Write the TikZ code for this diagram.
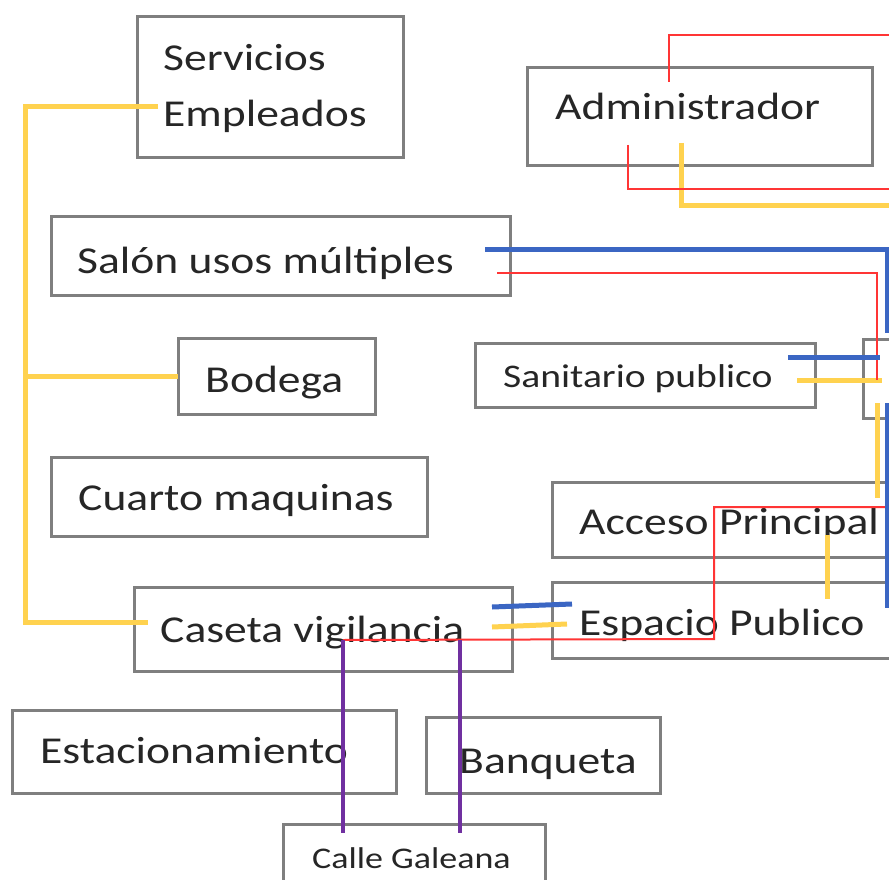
\documentclass[tikz,border=0pt]{standalone}
\usepackage{fontspec}
\setmainfont[FakeStretch=1.2]{Carlito}

\definecolor{gris}{HTML}{7F7F7F}
\definecolor{tinta}{HTML}{262626}
\definecolor{amar}{HTML}{FFD24F}
\definecolor{rojo}{HTML}{FF3535}
\definecolor{azul}{HTML}{3B66C3}
\definecolor{morado}{HTML}{7030A0}

\tikzset{
  caja/.style={draw=gris, line width=3pt, fill=white, anchor=north west, inner sep=0pt, outer sep=0pt},
  texto/.style={anchor=base west, inner sep=0pt, text=tinta, font=\fontsize{38}{56}\selectfont},
  chico/.style={texto, font=\fontsize{33}{40}\selectfont},
  lamar/.style={amar, line width=5pt},
  lrojo/.style={rojo, line width=2pt},
  lazul/.style={azul, line width=5pt},
  lmorado/.style={morado, line width=4pt}
}

\begin{document}
\begin{tikzpicture}[x=1pt, y=-1pt]
		\useasboundingbox (0,0) rectangle (889,880);
		\clip (0,0) rectangle (889,880);
		
		% Cajas
		\node[caja, minimum width=266pt, minimum height=141pt] (serv) at (137,17) {};
		\node[caja, minimum width=345pt, minimum height=98pt] (admin) at (527,68) {};
		\node[caja, minimum width=459pt, minimum height=79pt] (salon) at (51,216) {};
		\node[caja, minimum width=197pt, minimum height=76pt] (bodega) at (178,338) {};
		\node[caja, minimum width=340pt, minimum height=64pt] (sanit) at (475,343) {};
		\node[caja, minimum width=60pt, minimum height=79pt] (derecha) at (863,339) {};
		\node[caja, minimum width=376pt, minimum height=79pt] (cuarto) at (51,457) {};
		\node[caja, minimum width=360pt, minimum height=75pt] (acceso) at (552,482) {};
		\node[caja, minimum width=360pt, minimum height=76pt] (espacio) at (552,582) {};
		\node[caja, minimum width=378pt, minimum height=84pt] (caseta) at (134,587) {};
		\node[caja, minimum width=384pt, minimum height=83pt] (estac) at (12,710) {};
		\node[caja, minimum width=234pt, minimum height=76pt] (banq) at (426,717) {};
		\node[caja, minimum width=262pt, minimum height=70pt] (calle) at (283,824) {};
		
		% Textos
		\node[texto] (serv-a) at (163,71) {Servicios};
		\node[texto] (serv-b) at (163,127) {Empleados};
		\node[texto] (admin-t) at (555,120) {Administrador};
		\node[texto] (salon-t) at (77,273) {Salón usos múltiples};
		\node[texto] (bodega-t) at (205,392) {Bodega};
		\node[chico] (sanit-t) at (503,387) {Sanitario publico};
		\node[texto] (cuarto-t) at (78,510) {Cuarto maquinas};
		\node[texto] (acceso-t) at (579,534) {Acceso Principal};
		\node[texto] (espacio-t) at (579,635) {Espacio Publico};
		\node[texto] (caseta-t) at (160,642) {Caseta vigilancia};
		\node[texto] (estac-t) at (40,763) {Estacionamiento};
		\node[texto] (banq-t) at (459,773) {Banqueta};
		\node[texto, font=\fontsize{30}{36}\selectfont] (calle-t) at (312,868) {Calle Galeana};
		
		% Amarillo
		\coordinate (tronco) at (25,0);
		\draw[lamar] (158,107) -- (tronco |- 0,107) -- (tronco |- 0,622) -- (148,622);
		\draw[lamar] (tronco |- bodega.west) -- (bodega.west);
		\draw[lamar] (681,143) -- (681,205) -- (889,205);
		\draw[lamar] (797,380) -- (882,380);
		\draw[lamar] (877,403) -- (877,498);
		\draw[lamar] (827,535) -- (827,599);
		\draw[lamar] (492,627) -- (567,624);
		
		% Rojo
		\draw[lrojo] (669,82) -- (669,35) -- (889,35);
		\draw[lrojo] (628,145) -- (628,189) -- (889,189);
		\draw[lrojo] (497,273) -- (877,273) -- (877,380);
		\draw[lrojo] (889,507) -- (714,507) -- (714,639) -- (343,640);
		
		% Azul
		\draw[lazul] (485,249) -- (887,249) -- (887,333);
		\draw[lazul] (887,403) -- (887,608);
		\draw[lazul] (788,357) -- (880,357);
		\draw[lazul] (492,607) -- (572,604);
		
		% Morado
		\draw[lmorado] (343,640) -- (343,833);
		\draw[lmorado] (460,640) -- (460,833);
	\end{tikzpicture}
\end{document}
